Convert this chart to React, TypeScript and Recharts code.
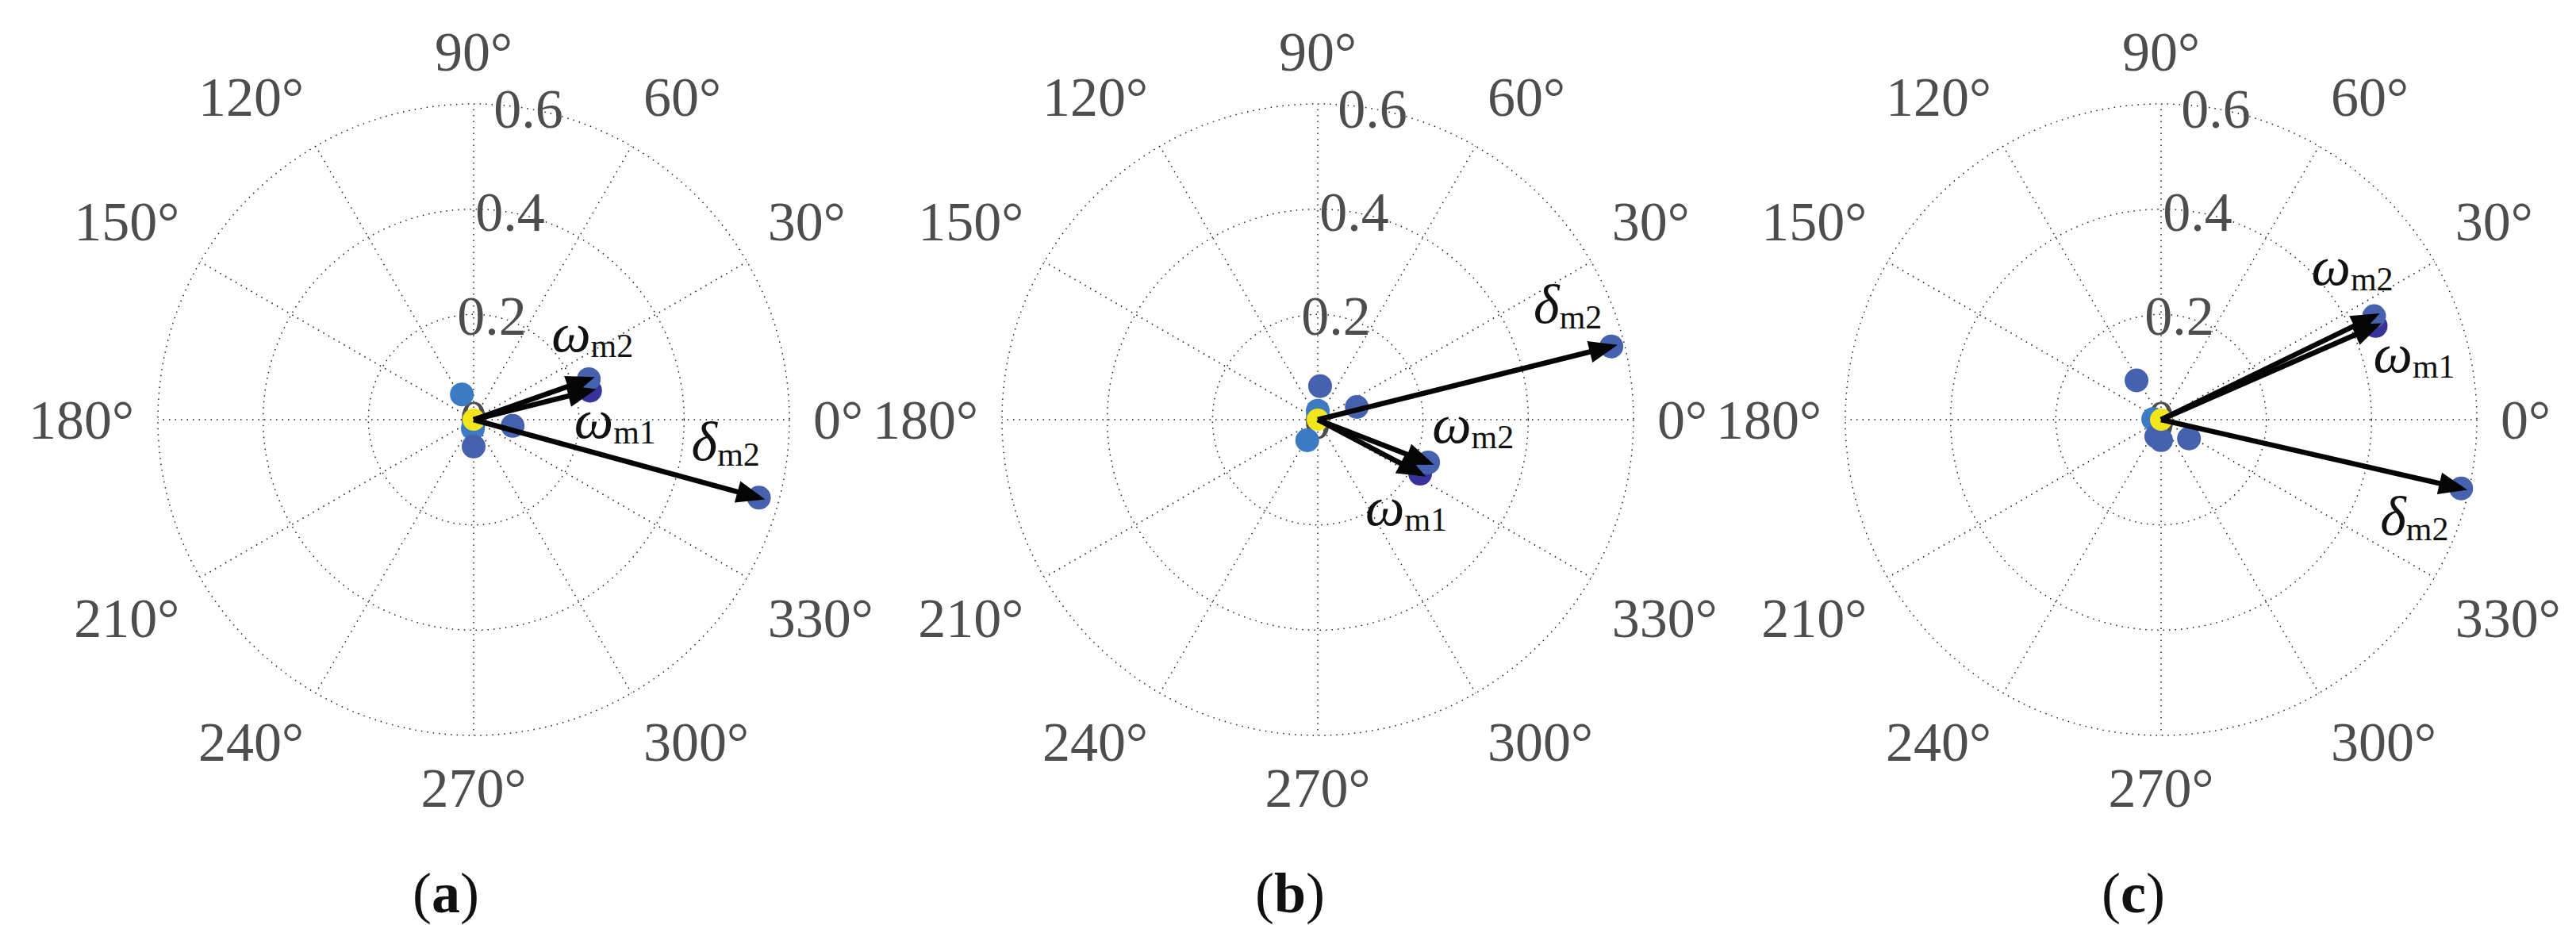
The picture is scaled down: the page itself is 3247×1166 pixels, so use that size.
import React from "react";
import { ScatterChart, Scatter, XAxis, YAxis, ReferenceLine, ReferenceDot } from "recharts";

// polar axes: angle ticks (deg, counter-clockwise from the right) and radius ticks
const angleTicks = [0, 30, 60, 90, 120, 150, 180, 210, 240, 270, 300, 330];
const radiusTicks = [0, 0.2, 0.4, 0.6];
const rMax = 0.6;
const radiusLabelAngle = 80;

// scattered points: r, theta (deg), tone (colour class)
const dotsA = [
  { r: 0.017, theta: 265, tone: 2 },
  { r: 0.053, theta: 115, tone: 2 },
  { r: 0.075, theta: 351, tone: 1 },
  { r: 0.051, theta: 270, tone: 1 },
  { r: 0.228, theta: 14.0, tone: 0 },
  { r: 0.232, theta: 19.4, tone: 1 },
  { r: 0.562, theta: 344.7, tone: 1 },
  { r: 0, theta: 0, tone: 3 },
];
const dotsB = [
  { r: 0.017, theta: 90, tone: 2 },
  { r: 0.064, theta: 86, tone: 1 },
  { r: 0.078, theta: 18, tone: 1 },
  { r: 0.044, theta: 243, tone: 2 },
  { r: 0.22, theta: 332.2, tone: 0 },
  { r: 0.225, theta: 338.8, tone: 1 },
  { r: 0.575, theta: 14.0, tone: 1 },
  { r: 0, theta: 0, tone: 3 },
];
const dotsC = [
  { r: 0.015, theta: 175, tone: 2 },
  { r: 0.088, theta: 122, tone: 1 },
  { r: 0.064, theta: 326, tone: 1 },
  { r: 0.033, theta: 254, tone: 1 },
  { r: 0.039, theta: 270, tone: 1 },
  { r: 0.445, theta: 23.6, tone: 0 },
  { r: 0.45, theta: 25.9, tone: 1 },
  { r: 0.585, theta: 347.1, tone: 1 },
  { r: 0, theta: 0, tone: 3 },
];

// arrows from the origin
const arrowsA = [
  { sym: "ω", sub: "m2", r: 0.232, theta: 19.4 },
  { sym: "ω", sub: "m1", r: 0.228, theta: 14.0 },
  { sym: "δ", sub: "m2", r: 0.562, theta: 344.7 },
];
const arrowsB = [
  { sym: "ω", sub: "m2", r: 0.225, theta: 338.8 },
  { sym: "ω", sub: "m1", r: 0.22, theta: 332.2 },
  { sym: "δ", sub: "m2", r: 0.575, theta: 14.0 },
];
const arrowsC = [
  { sym: "ω", sub: "m2", r: 0.45, theta: 25.9 },
  { sym: "ω", sub: "m1", r: 0.445, theta: 23.6 },
  { sym: "δ", sub: "m2", r: 0.585, theta: 347.1 },
];

// label placement (px from arrow tip: left edge, baseline)
const labelOffsetsA = [[-47, -35], [-20, 60], [-85, -47]];
const labelOffsetsB = [[5, -25], [-69, 65], [-98, -30]];
const labelOffsetsC = [[-79, -40], [-3, 58], [-102, 58]];

const PW = 1200;
const PH = 1166;
const CX = 600;
const CY = 529;
const R = 398;
const SCALE = R / rMax;
const VIEW = 0.75;
const FONT = "'Liberation Serif', 'Times New Roman', serif";
const PALETTE = ["#37339b", "#4661ad", "#3c7bc4", "#f1e51c"];
const GRID = { stroke: "#1e1e1e", strokeWidth: 1.5, strokeDasharray: "1.5 6" };
const HEAD_LEN = 36;
const HEAD_W = 14;
const HEAD_EXT = 8;
const LABEL_R = rMax + 30 / SCALE;

const toXY = (r: number, theta: number) => ({
  x: r * Math.cos((theta * Math.PI) / 180),
  y: r * Math.sin((theta * Math.PI) / 180),
});

const angleLabelData = angleTicks.map((t) => ({ ...toXY(LABEL_R, t), t }));
const radiusLabelData = radiusTicks.map((v) => ({ ...toXY(v, radiusLabelAngle), v }));

const tickText = { fontFamily: FONT, fontSize: 70, fill: "#4d4d4d" };

const AngleLabel = (p: any) => {
  const a = (p.payload.t * Math.PI) / 180;
  const c = Math.cos(a);
  const s = Math.sin(a);
  const anchor = c > 0.1 ? "start" : c < -0.1 ? "end" : "middle";
  const dy = s > 0.1 ? -36 : s < -0.1 ? 36 : 0;
  return (
    <text x={p.cx} y={p.cy + dy} textAnchor={anchor} dominantBaseline="central" style={tickText}>
      {`${p.payload.t}°`}
    </text>
  );
};

const RadiusLabel = (p: any) => (
  <text x={p.cx} y={p.cy} textAnchor="middle" dominantBaseline="central" style={tickText}>
    {String(p.payload.v)}
  </text>
);

const Dot = (p: any) => (
  <circle cx={p.cx} cy={p.cy} r={p.payload.tone === 3 ? 14 : 15} fill={PALETTE[p.payload.tone]} />
);

const makeHead = (sym: string, sub: string, off: number[]) => (p: any) => {
  if (!p.payload.tip) return <g />;
  const a = (p.payload.theta * Math.PI) / 180;
  const ux = Math.cos(a);
  const uy = -Math.sin(a);
  const tx = p.cx + ux * HEAD_EXT;
  const ty = p.cy + uy * HEAD_EXT;
  const bx = tx - ux * HEAD_LEN;
  const by = ty - uy * HEAD_LEN;
  const nx = -uy;
  const ny = ux;
  const pts = `${tx},${ty} ${bx + nx * HEAD_W},${by + ny * HEAD_W} ${bx - nx * HEAD_W},${by - ny * HEAD_W}`;
  return (
    <g>
      <polygon points={pts} fill="#050505" />
      <text x={p.cx + off[0]} y={p.cy + off[1]} style={{ fontFamily: FONT, fill: "#111" }}>
        <tspan style={{ fontStyle: "italic", fontSize: 70 }}>{sym}</tspan>
        <tspan style={{ fontSize: 42 }} dy={7}>
          {sub}
        </tspan>
      </text>
    </g>
  );
};

function PolarPanel({ cx, dots, arrows, offsets, tag }: any) {
  const dotData = dots.map((d: any) => ({ ...toXY(d.r, d.theta), tone: d.tone }));
  const half = VIEW * SCALE;
  return (
    <div style={{ position: "absolute", left: cx - CX, top: 0, width: PW, height: PH }}>
      <ScatterChart
        width={PW}
        height={PH}
        margin={{ top: CY - half, bottom: PH - CY - half, left: CX - half, right: PW - CX - half }}
      >
        <XAxis type="number" dataKey="x" domain={[-VIEW, VIEW]} hide />
        <YAxis type="number" dataKey="y" domain={[-VIEW, VIEW]} hide />
        {radiusTicks
          .filter((v) => v > 0)
          .map((v) => (
            <ReferenceDot key={`ring${v}`} x={0} y={0} r={v * SCALE} fill="none" {...GRID} />
          ))}
        {angleTicks.map((t) => {
          const end = toXY(rMax, t);
          return (
            <ReferenceLine
              key={`spoke${t}`}
              segment={[
                { x: 0, y: 0 },
                { x: end.x, y: end.y },
              ]}
              {...GRID}
            />
          );
        })}
        <Scatter data={radiusLabelData} shape={RadiusLabel} isAnimationActive={false} />
        <Scatter data={angleLabelData} shape={AngleLabel} isAnimationActive={false} />
        <Scatter data={dotData} shape={Dot} isAnimationActive={false} />
        {arrows.map((a: any, i: number) => (
          <Scatter
            key={i}
            data={[
              { x: 0, y: 0, tip: false, theta: a.theta },
              { ...toXY(a.r, a.theta), tip: true, theta: a.theta },
            ]}
            fill="#050505"
            line={{ stroke: "#050505", strokeWidth: 6.5 }}
            lineType="joint"
            shape={makeHead(a.sym, a.sub, offsets[i])}
            isAnimationActive={false}
          />
        ))}
      </ScatterChart>
      <div
        style={{
          position: "absolute",
          left: CX - 35 - 150,
          top: 1090,
          width: 300,
          textAlign: "center",
          fontFamily: FONT,
          fontSize: 72,
          lineHeight: "72px",
          color: "#111",
        }}
      >
        (<b>{tag}</b>)
      </div>
    </div>
  );
}

export default function App() {
  return (
    <div
      style={{
        position: "absolute",
        left: 0,
        top: 0,
        width: 3247,
        height: 1166,
        background: "#fff",
        overflow: "hidden",
      }}
    >
      <PolarPanel cx={597} dots={dotsA} arrows={arrowsA} offsets={labelOffsetsA} tag="a" />
      <PolarPanel cx={1661} dots={dotsB} arrows={arrowsB} offsets={labelOffsetsB} tag="b" />
      <PolarPanel cx={2724} dots={dotsC} arrows={arrowsC} offsets={labelOffsetsC} tag="c" />
    </div>
  );
}
